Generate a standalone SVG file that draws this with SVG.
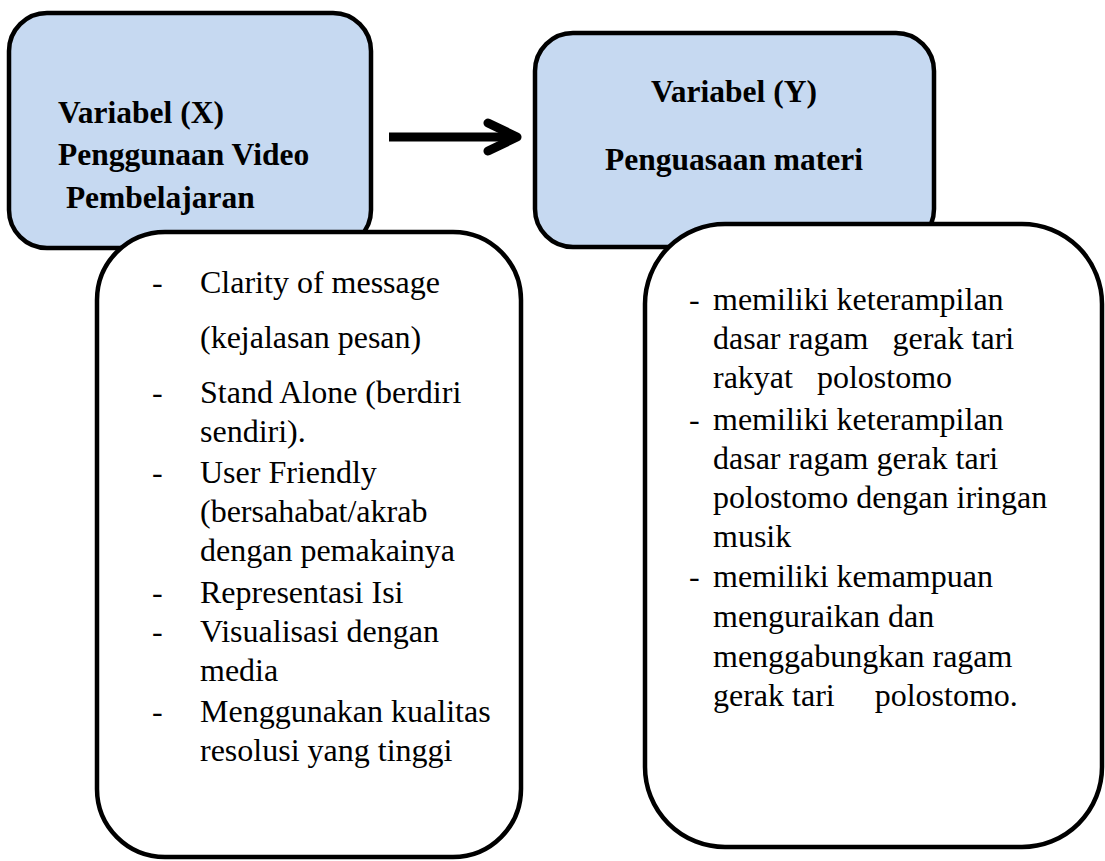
<svg xmlns="http://www.w3.org/2000/svg" width="1105" height="861" viewBox="0 0 1105 861">
<style>
.blue{fill:#c6d9f1;stroke:#000;stroke-width:4.5}
.white{fill:#fff;stroke:#000;stroke-width:4.5}
.hd{font-family:"Liberation Serif","Times New Roman",serif;font-weight:bold;font-size:31.5px;fill:#000}
.tx{font-family:"Liberation Serif","Times New Roman",serif;font-size:32px;fill:#000}
.arr{fill:none;stroke:#000;stroke-width:9}
</style>
<rect width="1105" height="861" fill="#fff"/>
<g id="nodeX">
<rect class="blue" x="9" y="13" width="362" height="235" rx="38" ry="38"/>
<text class="hd" xml:space="preserve"><tspan x="58" y="123">Variabel (X)</tspan><tspan x="58" y="165">Penggunaan Video</tspan><tspan x="58" y="208"> Pembelajaran</tspan></text>
</g>
<g id="nodeY">
<rect class="blue" x="535" y="33" width="399" height="214" rx="38" ry="38"/>
<text class="hd" text-anchor="middle"><tspan x="734" y="102">Variabel (Y)</tspan><tspan x="734" y="170">Penguasaan materi</tspan></text>
</g>
<g id="listX">
<rect class="white" x="97" y="232" width="424" height="625" rx="68" ry="68"/>
<text class="tx">
<tspan x="152" y="293">-</tspan><tspan x="200" y="293">Clarity of message</tspan>
<tspan x="200" y="348">(kejalasan pesan)</tspan>
<tspan x="152" y="403">-</tspan><tspan x="200" y="403">Stand Alone (berdiri</tspan>
<tspan x="200" y="442">sendiri).</tspan>
<tspan x="152" y="483">-</tspan><tspan x="200" y="483">User Friendly</tspan>
<tspan x="200" y="522">(bersahabat/akrab</tspan>
<tspan x="200" y="561">dengan pemakainya</tspan>
<tspan x="152" y="603">-</tspan><tspan x="200" y="603">Representasi Isi</tspan>
<tspan x="152" y="642">-</tspan><tspan x="200" y="642">Visualisasi dengan</tspan>
<tspan x="200" y="681">media</tspan>
<tspan x="152" y="722">-</tspan><tspan x="200" y="722">Menggunakan kualitas</tspan>
<tspan x="200" y="761">resolusi yang tinggi</tspan>
</text>
</g>
<g id="listY">
<rect class="white" x="645" y="224" width="457" height="623" rx="80" ry="80"/>
<text class="tx" xml:space="preserve"><tspan x="689" y="310">-</tspan><tspan x="713" y="310">memiliki keterampilan</tspan><tspan x="713" y="349">dasar ragam   gerak tari</tspan><tspan x="713" y="388">rakyat   polostomo</tspan><tspan x="689" y="430">-</tspan><tspan x="713" y="430">memiliki keterampilan</tspan><tspan x="713" y="469">dasar ragam gerak tari</tspan><tspan x="713" y="508">polostomo dengan iringan</tspan><tspan x="713" y="547">musik</tspan><tspan x="689" y="587">-</tspan><tspan x="713" y="587">memiliki kemampuan</tspan><tspan x="713" y="627">menguraikan dan</tspan><tspan x="713" y="667">menggabungkan ragam</tspan><tspan x="713" y="706">gerak tari     polostomo.</tspan></text>
</g>
<g id="connectors">
<line class="arr" x1="389" y1="137" x2="514" y2="137"/>
<polyline class="arr" points="488,123 517,137 488,151" stroke-linecap="round" stroke-linejoin="round"/>
</g>
</svg>
